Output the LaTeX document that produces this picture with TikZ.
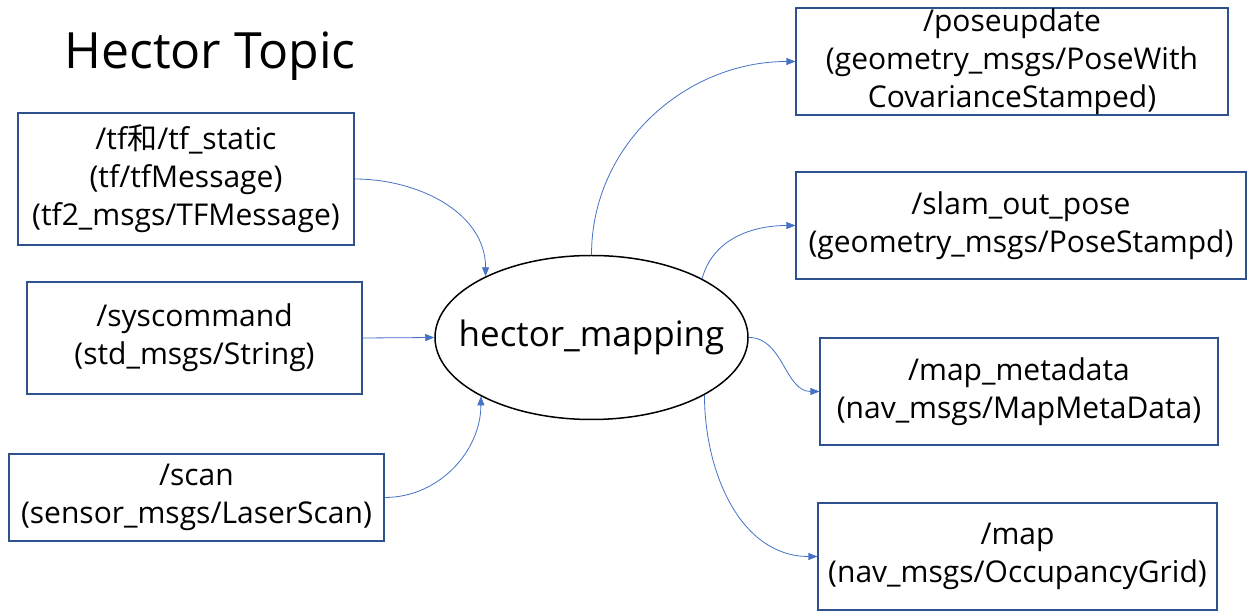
\documentclass[tikz,border=0pt]{standalone}
\usepackage{fontspec}
\setmainfont{Open Sans}
\newfontfamily\cjk{Noto Sans CJK SC}
\usetikzlibrary{arrows.meta,shapes.geometric}
\definecolor{boxc}{HTML}{2F528F}
\definecolor{arrc}{HTML}{4472C4}
\begin{document}
\begin{tikzpicture}[x=1pt,y=1pt,
  topic/.style={draw=boxc,line width=1.2pt,inner sep=0pt,align=center,font=\fontsize{30}{38}\selectfont,
    execute at begin node={\rule{0pt}{38pt}}},
  conn/.style={draw=arrc,line width=0.8pt,-{Triangle[length=9pt,width=7pt]}}]
\useasboundingbox[fill=white] (0,0) rectangle (1252,613);
\node[anchor=base,font=\fontsize{50}{56}\selectfont] (title) at (210,544) {Hector Topic};
\node[topic,minimum width=336pt,minimum height=132pt] (tf) at (186,434) {/tf{\cjk 和}/tf\_static\\(tf/tfMessage)\\(tf2\_msgs/TFMessage)};
\node[topic,minimum width=335pt,minimum height=112pt] (sys) at (194.5,275) {/syscommand\\(std\_msgs/String)};
\node[topic,minimum width=375pt,minimum height=87pt] (scan) at (196.5,115.5) {/scan\\(sensor\_msgs/LaserScan)};
\node[draw=black,line width=1.5pt,ellipse,inner sep=0pt,minimum width=313pt,minimum height=164pt,font=\fontsize{35}{40}\selectfont] (hm) at (591.5,275.5) {\makebox[0pt]{hector\_mapping}};
\node[topic,minimum width=432pt,minimum height=107pt] (pose) at (1012,551.5) {/poseupdate\\(geometry\_msgs/PoseWith\\CovarianceStamped)};
\node[topic,minimum width=450pt,minimum height=107pt] (slam) at (1021,387.5) {/slam\_out\_pose\\(geometry\_msgs/PoseStampd)};
\node[topic,minimum width=398pt,minimum height=107pt] (meta) at (1019,221.5) {/map\_metadata\\(nav\_msgs/MapMetaData)};
\node[topic,minimum width=399pt,minimum height=107pt] (map) at (1017.5,56.5) {/map\\(nav\_msgs/OccupancyGrid)};
\draw[conn] (tf.east) to[out=0,in=90] (hm.150.7);
\draw[conn] (sys.east) -- (hm.west);
\draw[conn] (scan.east) to[out=0,in=-90] (hm.208);
\draw[conn] (hm.90) to[out=90,in=180] (pose.west);
\draw[conn] (hm.28.5) to[out=75,in=180] (slam.west);
\draw[conn] (hm.0) to[out=0,in=180] (meta.west);
\draw[conn] (hm.-27.3) to[out=-90,in=180] (map.west);
\end{tikzpicture}
\end{document}
